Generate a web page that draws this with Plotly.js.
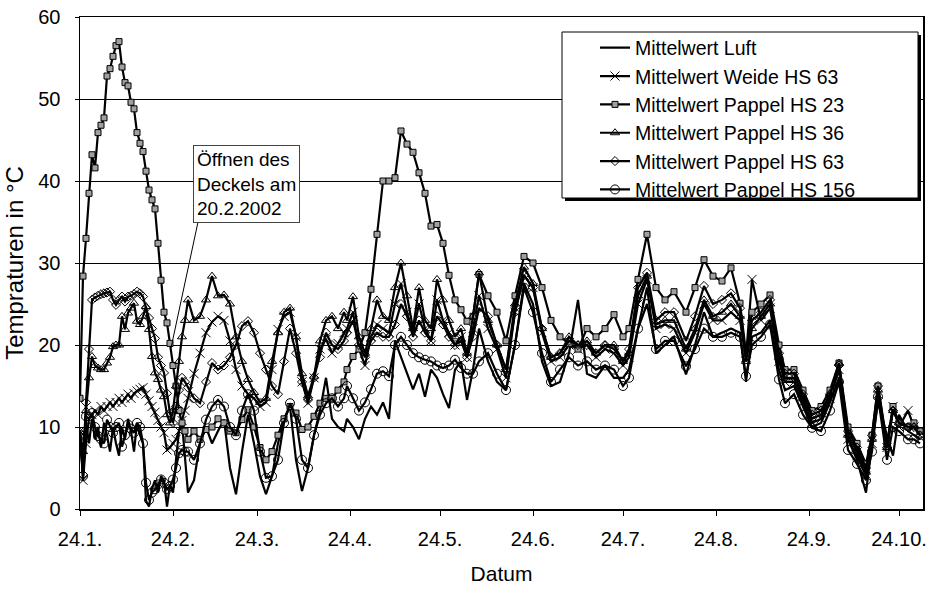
<!DOCTYPE html>
<html>
<head>
<meta charset="utf-8">
<script src="https://cdn.plot.ly/plotly-3.0.1.min.js"></script>
<style>
html,body{margin:0;padding:0;background:#ffffff;}
#chart{width:929px;height:590px;}
</style>
</head>
<body>
<div id="chart"></div>
<script>
// day offsets from 24.1.2002
const dayOffsets = [
  0,1,2,3,4,5,6,7,8,9,10,11,12,13,14,15,16,17,18,19,20,21,22,23,24,25,26,27,28,29,30,31,32,33,34,35,36,
  38,40,42,44,46,48,50,52,54,56,58,60,62,64,66,68,70,72,74,76,78,80,82,84,86,88,
  89,91,93,95,97,99,101,103,105,107,109,111,113,115,117,119,121,123,125,127,129,131,133,
  136,139,142,145,148,151,154,157,160,163,166,169,172,175,178,181,
  183,186,189,192,195,198,202,205,208,211,214,217,220,222,224,227,230,233,235,238,241,244,247,250,253,256,259,262,264,266,269,271,273,276,278,280
];

const luft = [
  9.5,4.5,10.5,8,11,8.5,10,7.5,10.5,9,7,10,8,6.5,10,8.5,11,9.5,7,10.5,9,8,1,0.3,2.5,3.5,2,4,3.5,0.3,3,2,6,9.5,10.5,6,2,
  3.5,8,10,8,9.5,10.9,5,1.8,7,11.5,8,4,1.8,4,8,11,12.5,6,2.2,5,9,12,16,11,10,9.5,
  11,10,8.5,11,12.5,11.5,13,11,20.5,18.5,16.6,14.6,16.5,13.7,17,16,14,12.3,17,18,13.3,17,22,
  18,15.5,14.5,20,27.5,25,18,15,15.5,19,25.5,16.5,16,17.5,16,16,
  17,22,27,19,20,21,16.4,20,24,21,21.5,22,21.5,15.5,21,21.5,23,17,14.5,15,12.5,10,10.5,13,16,8.5,6,2,8,13,9,6.5,11.5,9.5,9,8.5
];

const weideHS63 = [
  9.5,3.5,8,11,11.5,12,11.5,12.5,12,12.5,13,12.5,13,13.5,13,13.5,14,13.5,14.1,14.4,14.6,14.8,14,13.2,12.5,11.8,10.8,10,9.3,7.2,7.5,8,8.5,9.5,10.8,12,13.5,
  16.5,19,21.5,22.8,23.5,23,20.5,17,15,14,13.5,12.5,13,17,21.9,23.5,24,21,15.5,12.9,16,19.5,20.7,19,20.2,21.5,
  22,24,19.5,17.5,21,22.5,22,21.5,25,27.5,24,21.5,25,22,20.5,25.5,23,21.5,20,21,18.5,22,26,
  22,19.5,16,24,28.5,27,21.5,18,18.5,20,19.5,20,18.5,19.5,19,17.5,
  18.5,25,28,22,22.5,22,19,21.5,25,23,23,24,23,18.5,28,23,24.5,18,15.5,15.5,13,10.5,11,13.5,17,8.5,6.5,4,8,14,7.5,12.5,10,12,10,9
];

const pappelHS23 = [
  13.5,28.4,33,38.5,43.2,41.6,45.9,46.8,47.7,52.8,53.7,55.2,56.5,57,53.9,52,51.6,49.6,48.8,45.9,44.6,43.6,41.2,38.9,37.7,36.6,32.4,27.9,24,22.7,20.2,17.5,15,12,10.5,9.5,8.5,
  9.5,8.5,9.7,10,11,10.5,9.5,9.3,10.9,12.1,10,7.5,6,7,9,11,12.5,11.7,9.7,10,11.3,12.9,13.5,13.5,14.5,15.5,
  17,18.6,19.5,21.5,26.8,33.5,40,40,40.4,46.1,44.5,43.5,41,38.5,34.5,34.7,32.4,28.5,25.5,24.3,22.9,23.5,28.6,
  26,24,20.5,26,30.8,30,27,23,21,20.2,19.5,22,21,22,23.7,21,
  22,28,33.5,27,25.5,26.5,24,27,30.4,28.4,27.8,29.4,25.1,19,24,25,26.1,20,17,17,14.5,12,12.5,14.5,17.8,10,8,5.5,9,15,8,12.5,10.5,10,10.5,9.5
];

const pappelHS36 = [
  9,7,12,16,18.6,17.5,17.2,17,17,17.8,18.5,19.8,20,20,23.5,21.9,23.9,24.5,25.1,22.9,22.5,23.5,24.7,21.9,18.6,16.6,15.8,14.5,13.7,11.5,10.5,12,15,18,21,23,25.5,
  23,23.5,25.5,28.4,26,26.1,25,21,18,15.8,14.2,13,13.5,18,21.5,24,24.5,21,16.5,13.8,16.2,20.5,23,23.5,22,24,
  23,25.9,21,19,22,25.5,23.5,23,27,30,26,22,27,23,22,28,25.5,23,21,22,19,23.5,28.8,
  23,20,17,25,29.5,27.5,22,18.5,19,21,20,20.5,19,20,20,18,
  19,26,28.4,22.5,23,23,19.5,22,25.5,23.5,24,25,23.5,18,22,23.5,25,18.5,16,16,13.5,11,11.5,14,17.8,9,7,4.5,8.5,14.5,7.5,12,10.5,10,10,9
];

const pappelHS63 = [
  9.3,4.2,13,19.5,25.5,25.8,26,26.2,26.3,26.4,26.5,25.5,24.9,25.5,25.9,25.3,25.9,26,26.2,26.5,26.3,25.9,24.5,23.3,22,20.8,18.5,17.5,16.6,14.1,11.7,10.5,12.5,14.5,16,15.5,14.8,
  13.5,12.9,15.5,17.8,17,17.5,18.5,20,22.3,22.9,21.5,19,17,15,14,18,22,19,15.5,13.3,16,18.5,21.5,20,19.5,20.5,
  21.5,23,20,18.5,20.5,21.5,21,21,22.5,25,23.5,21,23,21.5,20.5,23.5,22.5,21,20,20.5,18.5,21,24.5,
  23.5,20,17,24,28.5,27,22,18.5,19,20.5,20,20,19,20,19.5,18,
  19.5,27,28.8,23,24,24,20.5,23.5,27.2,25,25.5,26.3,24.5,18.5,23,24,25.5,19,16.5,16.5,14,11.5,12,14,17.5,9.5,7.5,5,9,15,7.5,12,10.5,10,10,9
];

const pappelHS156 = [
  9,4,11.3,11,11.7,10,8.9,8.5,8,10.9,10,9.3,10,10.5,7.6,9,10.3,9.8,9.3,10.5,10,8,3.2,1.1,2,2.4,3,3.6,3.2,2.4,2.8,3.6,5,6.8,7.2,7,7,
  6,8,10.9,12.5,13.3,12.5,10,9,12,14,12,7,3.8,4,6,10.5,12.9,11,6,5,9,11.5,12.9,13.5,12.5,13.5,
  15,13.5,12,13,14.6,16.5,16.8,16.2,20,21,20,19,18.5,18.2,18,17.5,17.2,17.5,18.2,17.2,16.5,16.5,18,
  19,16.5,14.5,20,27,24,19,15.5,17,18.5,17.5,18,17,17.5,17,15,
  16,22,25,19.5,20.5,20.5,17.4,19.5,22,21,21,21.5,21,16.2,20,21,22.5,15.8,12.9,14,11.5,9.9,9.5,12,15.5,7.2,5.5,3.5,7,13.7,6,10,9.5,8.5,8.5,8
];

const seriesNames = [
  'Mittelwert Luft',
  'Mittelwert Weide HS 63',
  'Mittelwert Pappel HS 23',
  'Mittelwert Pappel HS 36',
  'Mittelwert Pappel HS 63',
  'Mittelwert Pappel HS 156'
];

const tickDates = ['2002-01-24','2002-02-24','2002-03-24','2002-04-24','2002-05-24','2002-06-24','2002-07-24','2002-08-24','2002-09-24','2002-10-24'];
const tickLabels = ['24.1.','24.2.','24.3.','24.4.','24.5.','24.6.','24.7.','24.8.','24.9.','24.10.'];

const startMs = Date.UTC(2002, 0, 24);
const dates = dayOffsets.map(d => new Date(startMs + d * 86400000).toISOString().slice(0, 10));

const FONT = 'Arial, "Liberation Sans", sans-serif';

function mk(name, y, marker) {
  const t = {
    type: 'scatter', mode: marker ? 'lines+markers' : 'lines',
    name: name, x: dates, y: y,
    line: {color: '#000000', width: 2.2}
  };
  if (marker) t.marker = marker;
  return t;
}

const traces = [
  mk(seriesNames[0], luft, null),
  mk(seriesNames[1], weideHS63, {symbol: 'x-thin-open', size: 9, color: '#000', line: {color: '#000', width: 1}}),
  mk(seriesNames[2], pappelHS23, {symbol: 'square', size: 6, color: '#a0a0a0', line: {color: '#000', width: 1}}),
  mk(seriesNames[3], pappelHS36, {symbol: 'triangle-up-open', size: 8, color: '#000', line: {color: '#000', width: 1}}),
  mk(seriesNames[4], pappelHS63, {symbol: 'diamond-open', size: 7, color: '#000', line: {color: '#000', width: 1}}),
  mk(seriesNames[5], pappelHS156, {symbol: 'circle-open', size: 9, color: '#000', line: {color: '#000', width: 1}})
];

// plot area: x 80..923, y 17..509 (px)
const PL = 80, PR = 923, PT = 17, PB = 509;
const px = v => (v - PL) / (PR - PL);
const py = v => (PB - v) / (PB - PT);

const layout = {
  width: 929, height: 590,
  margin: {l: PL, r: 929 - PR, t: PT, b: 590 - PB, pad: 0},
  paper_bgcolor: '#ffffff', plot_bgcolor: '#ffffff',
  font: {family: FONT, size: 20, color: '#000'},
  showlegend: true,
  xaxis: {
    type: 'date', range: ['2002-01-24', '2002-11-01'],
    tickvals: tickDates, ticktext: tickLabels,
    ticks: 'outside', ticklen: 5, tickwidth: 1, tickcolor: '#000',
    showgrid: false, zeroline: false,
    showline: true, linecolor: '#000', linewidth: 1.5, mirror: true,
    tickfont: {family: FONT, size: 20, color: '#000'},
    ticklabelstandoff: 6,
    title: {text: 'Datum', font: {family: FONT, size: 21, color: '#000'}, standoff: 18}
  },
  yaxis: {
    range: [0, 60], dtick: 10, tick0: 0,
    ticks: 'outside', ticklen: 4, tickwidth: 1, tickcolor: '#000',
    showgrid: true, gridcolor: '#000', gridwidth: 1,
    zeroline: false,
    showline: true, linecolor: '#000', linewidth: 1.5, mirror: true,
    tickfont: {family: FONT, size: 20, color: '#000'},
    ticklabelstandoff: 10,
    title: {text: 'Tempraturen in °C', font: {family: FONT, size: 24, color: '#000'}, standoff: 8}
  },
  legend: {
    x: px(595), y: py(28.5), xanchor: 'left', yanchor: 'top',
    bgcolor: 'rgba(0,0,0,0)', borderwidth: 0,
    font: {family: FONT, size: 19.5, color: '#000'},
    traceorder: 'normal', itemwidth: 30, tracegroupgap: 0
  },
  shapes: [
    {type: 'rect', xref: 'paper', yref: 'paper', layer: 'above',
     x0: px(565), x1: px(921), y0: py(201), y1: py(35),
     fillcolor: '#000', line: {width: 0}},
    {type: 'rect', xref: 'paper', yref: 'paper', layer: 'above',
     x0: px(562), x1: px(918), y0: py(198), y1: py(32),
     fillcolor: '#fff', line: {color: '#000', width: 1}},
    {type: 'line', xref: 'paper', yref: 'paper', layer: 'above',
     x0: px(198), y0: py(222), x1: px(171), y1: py(348),
     line: {color: '#000', width: 1}}
  ],
  annotations: [
    {xref: 'paper', yref: 'paper', x: px(193), y: py(145), xanchor: 'left', yanchor: 'top',
     text: 'Öffnen des<br>Deckels am<br>20.2.2002', align: 'left', showarrow: false,
     font: {family: FONT, size: 19, color: '#000'},
     bgcolor: '#fff', bordercolor: '#444', borderwidth: 1, borderpad: 3}
  ]
};

Plotly.newPlot('chart', traces, layout, {staticPlot: true, displayModeBar: false});
</script>
</body>
</html>
